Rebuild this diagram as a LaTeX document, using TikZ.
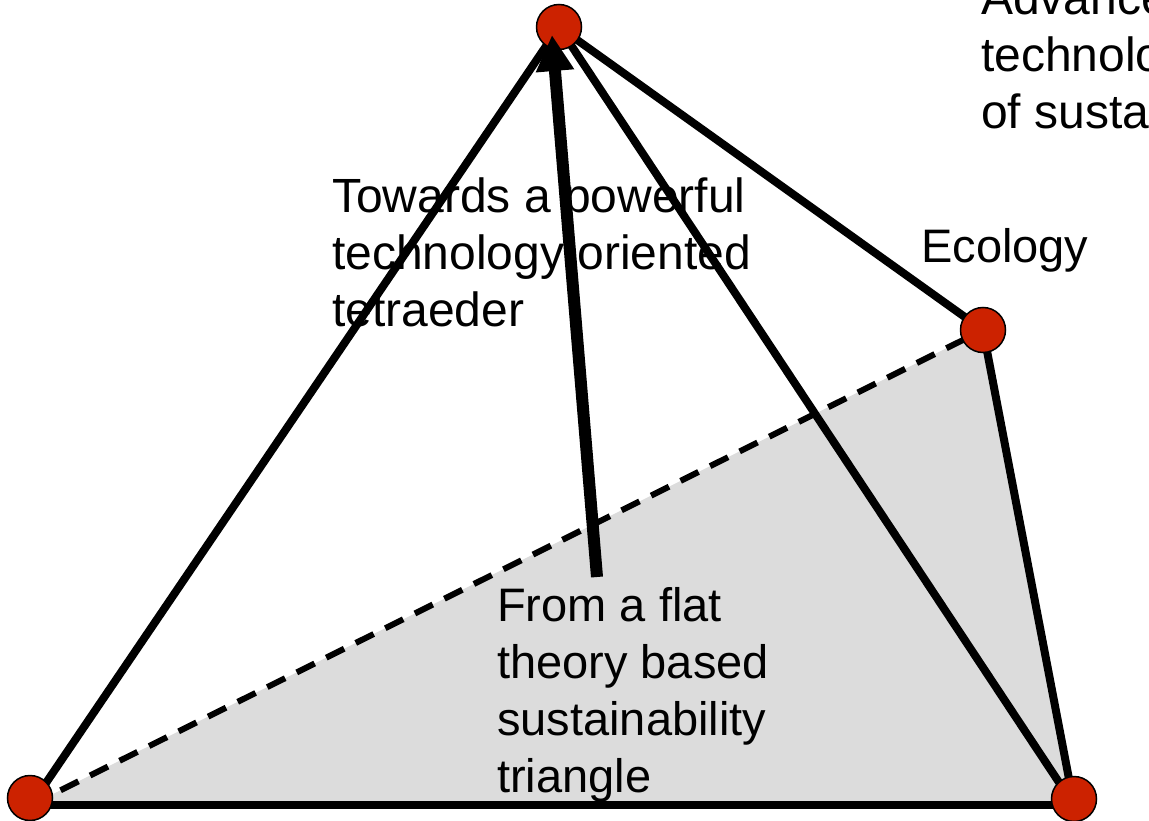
\documentclass[tikz,border=0pt]{standalone}
\usepackage{fontspec}
\setmainfont{Liberation Sans}
\usetikzlibrary{arrows.meta}
\definecolor{vertexred}{HTML}{CC2200}
\definecolor{planegray}{HTML}{DCDCDC}
\begin{document}
\begin{tikzpicture}[x=1pt,y=-1pt,
  vertex/.style={circle,draw=black,line width=1.5pt,fill=vertexred,minimum size=45pt,inner sep=0pt},
  edge/.style={line width=8pt},
  hidden/.style={line width=6pt,dash pattern=on 20pt off 13pt},
  label/.style={anchor=base west,inner sep=0pt,align=left,font=\fontsize{47}{57}\selectfont},
  biglabel/.style={label,font=\fontsize{48}{57}\selectfont},
  push/.style={line width=12pt,-{Triangle[length=36pt,width=36pt]}}]
  \useasboundingbox (0,0) rectangle (1149,821);
  \clip (0,0) rectangle (1149,821);

  % corners of the base triangle
  \coordinate (cbl) at (31,805);
  \coordinate (ceco) at (983,330);
  \coordinate (cbr) at (1074,805);

  % shaded sustainability triangle
  \fill[planegray] (cbl) -- (ceco) -- (cbr) -- cycle;

  % labels (anchored at the baseline of their last line)
  \node[biglabel] (towards) at (332,326) {Towards a powerful\\technology oriented\\tetraeder};
  \node[label] (from) at (497,792) {From a flat\\theory based\\sustainability\\triangle};
  \node[label] (ecology) at (921,262) {Ecology};
  \node[biglabel] (advanced) at (981,129) {Advanced\\technology\\of sustainability};

  % edges of the tetrahedron
  \path (559,27) coordinate (ctop);
  \draw[hidden] (cbl) -- (ceco);
  \draw[edge] (ctop) -- (cbl);
  \draw[edge] (ctop) -- (cbr);
  \draw[edge] (ctop) -- (ceco);
  \draw[edge] (ceco) -- (cbr);
  \draw[edge] (cbl) -- (cbr);

  % vertices
  \node[vertex] (top) at (ctop) {};
  \node[vertex] (eco) at (ceco) {};
  \node[vertex] (bl) at (30,798) {};
  \node[vertex] (br) at (1074,799) {};

  % arrow from the flat triangle up to the apex
  \coordinate (src) at (597,577);
  \coordinate (tip) at (552,35);
  \draw[push] (src) -- (tip);
\end{tikzpicture}
\end{document}
